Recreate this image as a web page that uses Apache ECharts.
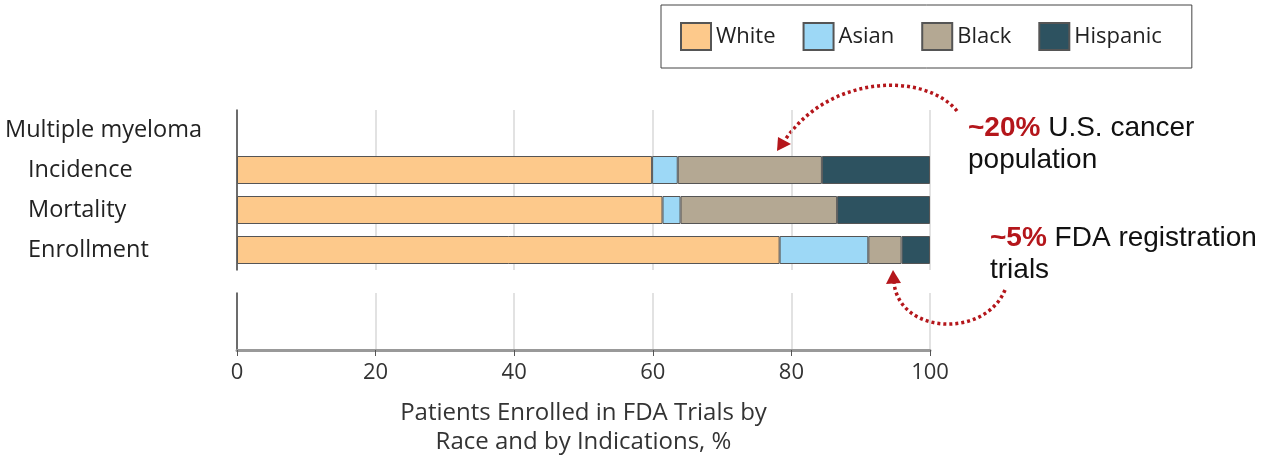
<!DOCTYPE html>
<html>
<head>
<meta charset="utf-8">
<script src="https://cdn.jsdelivr.net/npm/echarts@6/dist/echarts.min.js"></script>
<style>html,body{margin:0;padding:0;background:#fff}#c{width:1265px;height:463px}</style>
</head>
<body>
<div id="c"></div>
<script>
var categories = ['Multiple myeloma', 'Incidence', 'Mortality', 'Enrollment'];
var seriesNames = ['White', 'Asian', 'Black', 'Hispanic'];
var white = ['-', 59.9, 61.4, 78.3];
var asian = ['-', 3.7, 2.6, 12.8];
var black = ['-', 20.8, 22.6, 4.8];
var hispanic = ['-', 15.6, 13.4, 4.1];
var xTicks = [0, 20, 40, 60, 80, 100];
var colors = ['#FDC98B', '#9DD8F6', '#B4A893', '#2D5260'];
var seriesData = [white, asian, black, hispanic];

var chart = echarts.init(document.getElementById('c'));
var font = 'Open Sans';
var red = '#B4161B';

var series = seriesNames.map(function (n, i) {
  return {
    name: n, type: 'bar', stack: 'all', xAxisIndex: 0, yAxisIndex: 0,
    barWidth: 28, data: seriesData[i],
    itemStyle: { color: colors[i], borderColor: '#555', borderWidth: 1 },
    emphasis: { disabled: true }
  };
});

chart.setOption({
  animation: false,
  color: colors,
  textStyle: { fontFamily: font },
  legend: {
    data: seriesNames, left: 661, top: 5,
    orient: 'horizontal', icon: 'rect',
    itemWidth: 30, itemHeight: 27, itemGap: 27,
    padding: [17, 30, 17, 19],
    borderColor: '#444', borderWidth: 1,
    textStyle: { fontSize: 22, color: '#222', fontFamily: font }
  },
  grid: [
    { left: 237, right: 335, top: 110, height: 160 },
    { left: 237, right: 335, top: 293, height: 57 }
  ],
  xAxis: [
    { gridIndex: 0, type: 'value', min: 0, max: 100, interval: 20,
      axisLine: { show: false }, axisTick: { show: false }, axisLabel: { show: false },
      splitLine: { show: true, lineStyle: { color: '#d9d9d9', width: 1.5 } } },
    { gridIndex: 1, type: 'value', min: 0, max: 100, interval: 20,
      axisLine: { show: true, lineStyle: { color: '#999', width: 3 } },
      axisTick: { show: true, length: 6, lineStyle: { color: '#555', width: 1 } },
      axisLabel: { fontSize: 22, color: '#333', margin: 12, fontFamily: font,
        formatter: function (v) { return xTicks.indexOf(v) >= 0 ? String(v) : ''; } },
      splitLine: { show: true, lineStyle: { color: '#d9d9d9', width: 1.5 } },
      name: 'Patients Enrolled in FDA Trials by\nRace and by Indications, %',
      nameLocation: 'middle', nameGap: 49,
      nameTextStyle: { fontSize: 24, color: '#333', lineHeight: 29, fontFamily: font } }
  ],
  yAxis: [
    { gridIndex: 0, type: 'category', data: categories, inverse: true,
      axisLine: { show: true, lineStyle: { color: '#444', width: 1.5 } },
      axisTick: { show: false }, splitLine: { show: false },
      axisLabel: { align: 'left', margin: 232, fontSize: 23.5, color: '#222', fontFamily: font,
        formatter: function (v, i) { return i === 0 ? v : '{ind|' + v + '}'; },
        rich: { ind: { fontSize: 23.5, color: '#222', fontFamily: font, padding: [0, 0, 0, 23] } } } },
    { gridIndex: 1, type: 'value', min: 0, max: 1,
      axisLine: { show: true, lineStyle: { color: '#444', width: 1.5 } },
      axisTick: { show: false }, axisLabel: { show: false }, splitLine: { show: false } }
  ],
  series: series,
  graphic: [
    { type: 'bezierCurve', silent: true,
      shape: { x1: 957, y1: 111, cpx1: 925, cpy1: 72, cpx2: 830, cpy2: 74, x2: 785, y2: 140 },
      style: { stroke: red, lineWidth: 3.5, lineDash: [3, 3], fill: null } },
    { type: 'polygon', silent: true,
      shape: { points: [[777, 151], [778, 137], [791, 144]] },
      style: { fill: red } },
    { type: 'bezierCurve', silent: true,
      shape: { x1: 1005, y1: 290, cpx1: 985, cpy1: 338, cpx2: 900, cpy2: 335, x2: 894, y2: 283 },
      style: { stroke: red, lineWidth: 3.5, lineDash: [3, 3], fill: null } },
    { type: 'polygon', silent: true,
      shape: { points: [[893, 270], [886, 284], [901, 283]] },
      style: { fill: red } },
    { type: 'text', silent: true, left: 968, top: 112,
      style: { text: '{r|~20%} U.S. cancer\npopulation', fontSize: 28, lineHeight: 32,
        fontFamily: 'Liberation Sans', fill: '#111',
        rich: { r: { fontSize: 28, fontWeight: 'bold', fill: red, fontFamily: 'Liberation Sans' } } } },
    { type: 'text', silent: true, left: 990, top: 222,
      style: { text: '{r|~5%} FDA registration\ntrials', fontSize: 28, lineHeight: 32,
        fontFamily: 'Liberation Sans', fill: '#111',
        rich: { r: { fontSize: 28, fontWeight: 'bold', fill: red, fontFamily: 'Liberation Sans' } } } }
  ]
});
</script>
</body>
</html>
